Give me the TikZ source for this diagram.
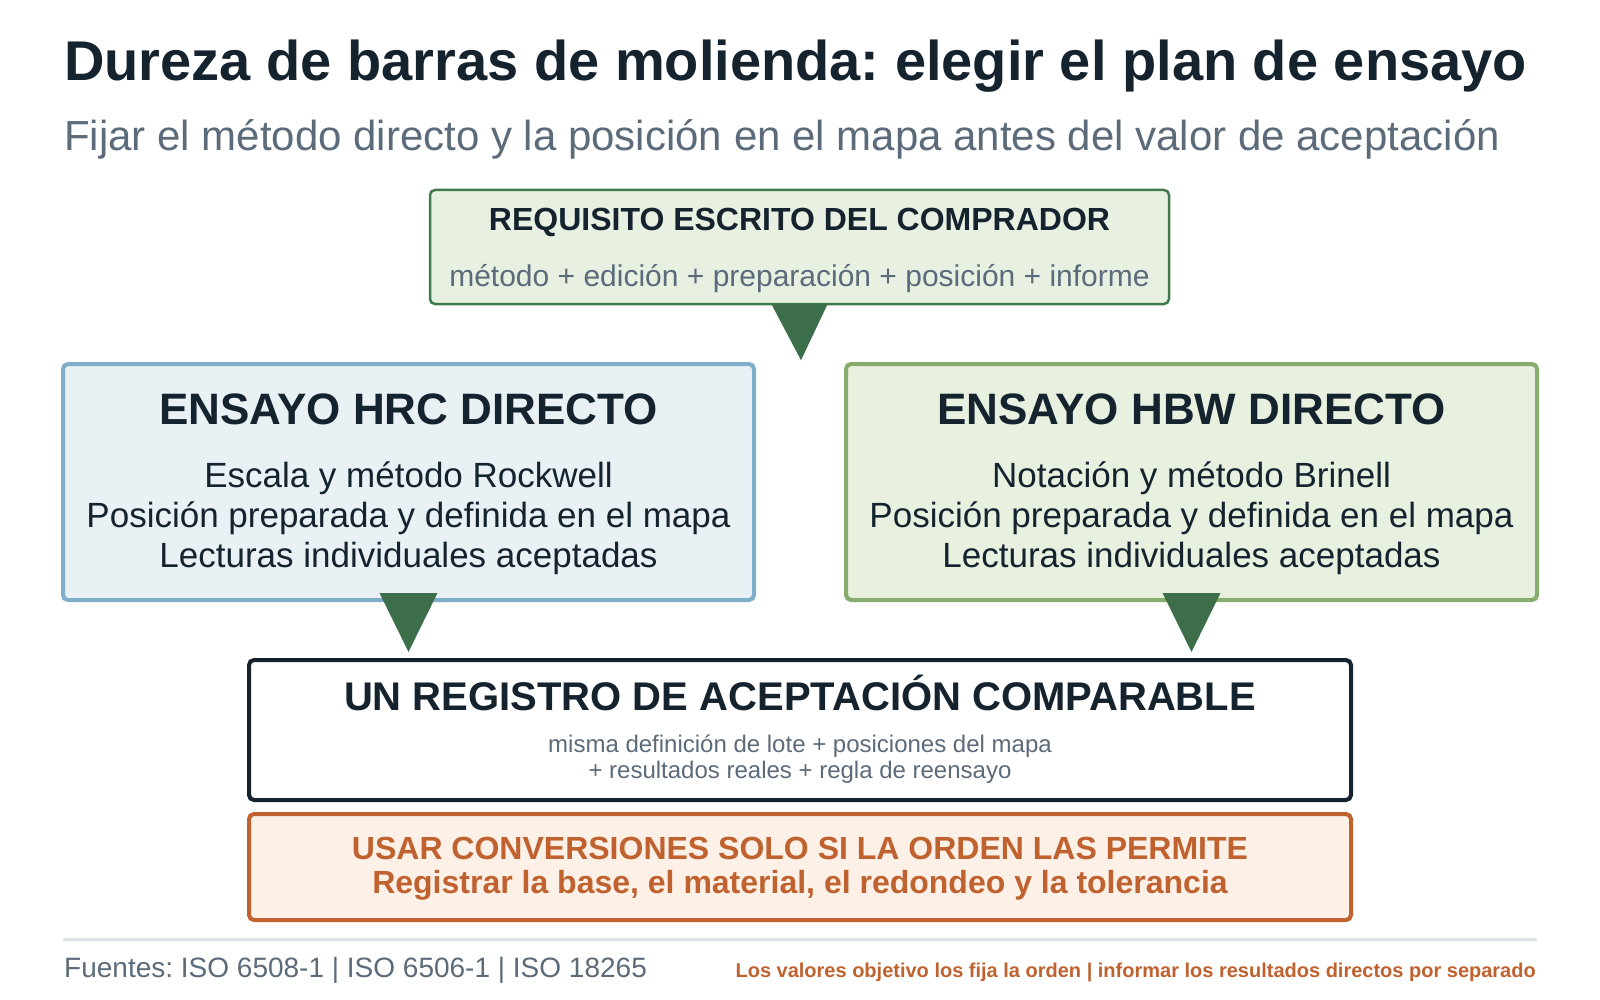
\documentclass[tikz,border=0pt]{standalone}
\usepackage{fontspec}
\setmainfont{Liberation Sans}
\usepackage{xcolor}
\usetikzlibrary{positioning, calc}
\frenchspacing

\definecolor{ink}{HTML}{15232F}
\definecolor{slate}{HTML}{5B6B7A}
\definecolor{reqfill}{HTML}{E8F0E2}
\definecolor{reqline}{HTML}{3F7A4F}
\definecolor{tipgreen}{HTML}{3C6E4A}
\definecolor{hrcfill}{HTML}{E9F1F5}
\definecolor{hrcline}{HTML}{7FAECB}
\definecolor{hbwfill}{HTML}{E8F0E0}
\definecolor{hbwline}{HTML}{86AD6C}
\definecolor{warnfill}{HTML}{FDF0E6}
\definecolor{warnline}{HTML}{C0622F}
\definecolor{rulegray}{HTML}{DCE3E9}

\newcommand{\pxfont}[1]{\fontsize{#1}{#1}\selectfont}

\begin{document}
\begin{tikzpicture}[
    x=1pt, y=-1pt,
    box/.style={rectangle, rounded corners=5pt, inner sep=0pt},
    reqbox/.style={box, draw=reqline, fill=reqfill, line width=2.5pt, minimum width=739pt, minimum height=114pt},
    testbox/.style={box, line width=4pt, minimum width=691pt, minimum height=236pt},
    recbox/.style={box, draw=ink, fill=white, line width=4pt, minimum width=1102pt, minimum height=140pt},
    warnbox/.style={box, draw=warnline, fill=warnfill, line width=4pt, minimum width=1102pt, minimum height=106pt},
    txt/.style={inner sep=0pt, anchor=base, text=ink},
    head/.style={txt, font={\pxfont{44}\bfseries}},
    body/.style={txt, font=\pxfont{35}},
    tip/.style={fill=tipgreen}
]
\fill[white] (0,0) rectangle (1600,1000);
\useasboundingbox (0,0) rectangle (1600,1000);

% Title
\node[txt, anchor=base west, font={\pxfont{56}\bfseries}] (title) at (64,81) {Dureza de barras de molienda: elegir el plan de ensayo};
\node[txt, anchor=base west, text=slate, font=\pxfont{42}] (subtitle) at (64,150.5) {Fijar el método directo y la posición en el mapa antes del valor de aceptación};

% Boxes
\node[reqbox] (req) at (799.5,247) {};
\node[testbox, draw=hrcline, fill=hrcfill] (hrc) at (408.5,482) {};
\node[testbox, draw=hbwline, fill=hbwfill] (hbw) at (1191.5,482) {};
\node[recbox] (rec) at (800,730) {};
\node[warnbox] (warn) at (800,867) {};

% Buyer requirement
\node[txt, font={\pxfont{32}\bfseries}] (reqhead) at (799.5,230.6) {REQUISITO ESCRITO DEL COMPRADOR};
\node[txt, text=slate, font=\pxfont{30}] (reqsub) at (799.5,287) {método + edición + preparación + posición + informe};

% Direct tests
\node[head] (hrchead) at (408.5,424.5) {ENSAYO HRC DIRECTO};
\node[head] (hbwhead) at (1191.5,424.5) {ENSAYO HBW DIRECTO};
\foreach \t/\y [count=\i] in {Escala y método Rockwell/487, Posición preparada y definida en el mapa/527.5, Lecturas individuales aceptadas/567.5}
  \node[body] (hrcline\i) at (408.5,\y) {\t};
\foreach \t/\y [count=\i] in {Notación y método Brinell/487, Posición preparada y definida en el mapa/527.5, Lecturas individuales aceptadas/567.5}
  \node[body] (hbwline\i) at (1191.5,\y) {\t};

% Acceptance record
\node[txt, font={\pxfont{40}\bfseries}] (rechead) at (800,710) {UN REGISTRO DE ACEPTACIÓN COMPARABLE};
\node[txt, text=slate, font=\pxfont{24}] (recsub1) at (800,752) {misma definición de lote + posiciones del mapa};
\node[txt, text=slate, font=\pxfont{24}] (recsub2) at (800,778.6) {+ resultados reales + regla de reensayo};

% Conversion warning
\node[txt, text=warnline, font={\pxfont{32}\bfseries}] (warn1) at (800,859) {USAR CONVERSIONES SOLO SI LA ORDEN LAS PERMITE};
\node[txt, text=warnline, font={\pxfont{32}\bfseries}] (warn2) at (800,893.5) {Registrar la base, el material, el redondeo y la tolerancia};

% Arrow tips
\fill[tip] ($(req.south)+(-28,-1)$) -- ($(req.south)+(28,-1)$) -- ($(req.south)+(1.5,55)$) -- cycle;
\fill[tip] ($(hrc.south)+(-29,-9)$) -- ($(hrc.south)+(29,-9)$) -- ($(hrc.south)+(0,50)$) -- cycle;
\fill[tip] ($(hbw.south)+(-29,-9)$) -- ($(hbw.south)+(29,-9)$) -- ($(hbw.south)+(0,50)$) -- cycle;

% Footer
\draw[rulegray, line width=3pt] (63,939) -- (1537,939);
\node[txt, anchor=base west, text=slate, font=\pxfont{28}] (sources) at (64,977.6) {Fuentes: ISO 6508-1 | ISO 6506-1 | ISO 18265};
\node[txt, anchor=base east, text=warnline, font={\pxfont{20}\bfseries}] (note) at (1536,977.6) {Los valores objetivo los fija la orden | informar los resultados directos por separado};

\end{tikzpicture}
\end{document}
